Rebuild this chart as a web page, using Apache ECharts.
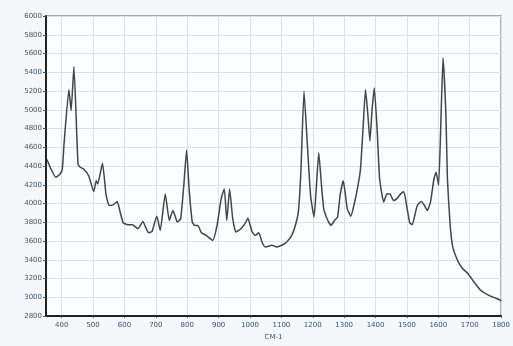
<!DOCTYPE html>
<html><head><meta charset="utf-8">
<script src="https://cdn.jsdelivr.net/npm/echarts@6/dist/echarts.min.js"></script>
<style>html,body{margin:0;padding:0;background:#f4f8fb;}#c{width:513px;height:346px;}</style>
</head><body><div id="c"></div>
<script>
const wavenumbers = [353,366,381,395,402,407,423,430,439,452,460,470,486,502,510,515,530,541,551,564,577,585,596,611,625,643,659,667,677,688,703,714,730,743,754,761,768,779,789,798,806,816,824,834,845,860,881,895,908,918,926,935,945,955,971,987,993,1007,1017,1028,1038,1049,1070,1085,1101,1117,1133,1143,1154,1162,1172,1183,1193,1204,1211,1219,1227,1235,1248,1258,1269,1279,1287,1297,1303,1310,1321,1331,1344,1352,1360,1368,1375,1382,1389,1396,1405,1413,1426,1436,1446,1457,1467,1480,1490,1499,1509,1517,1525,1533,1546,1556,1565,1575,1586,1593,1601,1609,1615,1624,1629,1637,1645,1661,1677,1694,1713,1734,1755,1776,1797,1800];
const intensity = [4470,4368,4280,4315,4370,4615,5216,4990,5460,4420,4385,4368,4297,4127,4244,4209,4431,4103,3979,3986,4021,3926,3795,3774,3774,3732,3809,3750,3689,3703,3866,3714,4103,3820,3926,3873,3803,3838,4191,4572,4156,3803,3767,3767,3689,3661,3608,3767,4050,4156,3820,4156,3838,3696,3732,3803,3845,3696,3661,3689,3590,3537,3555,3537,3555,3590,3661,3750,3909,4333,5198,4615,4085,3856,4156,4545,4227,3944,3820,3767,3820,3856,4085,4244,4121,3944,3866,3979,4191,4368,4792,5216,4969,4668,5004,5233,4792,4262,4015,4103,4103,4032,4050,4103,4127,3979,3795,3774,3873,3979,4021,3979,3926,4015,4262,4333,4198,4969,5555,4969,4262,3803,3555,3396,3308,3255,3167,3078,3032,3000,2972,2960];
const xTicks = [400,500,600,700,800,900,1000,1100,1200,1300,1400,1500,1600,1700,1800];
const yTicks = [2800,3000,3200,3400,3600,3800,4000,4200,4400,4600,4800,5000,5200,5400,5600,5800,6000];
const xName = 'CM-1';

const chart = echarts.init(document.getElementById('c'), null, {renderer:'canvas'});
const textStyle = {color:'#3a5470', fontSize:7, fontFamily:'DejaVu Sans'};
const plain = v => String(v);
chart.setOption({
  backgroundColor:'#f4f8fb',
  animation:false,
  grid:{left:46, right:5, top:16, bottom:27, show:true, backgroundColor:'#fbfdff', borderColor:'#8a9096', borderWidth:1.5},
  xAxis:{
    type:'value', min:350, max:1800,
    name:xName, nameLocation:'middle', nameGap:17,
    nameTextStyle:textStyle,
    axisLine:{show:true, lineStyle:{color:'#222', width:2}},
    axisTick:{show:true, length:2, customValues:xTicks, lineStyle:{color:'#555'}},
    axisLabel:Object.assign({customValues:xTicks, margin:6, formatter:plain}, textStyle),
    splitLine:{show:true, lineStyle:{color:'#d9e1ea', width:1}}
  },
  yAxis:{
    type:'value', min:2800, max:6000, interval:200,
    axisLine:{show:true, lineStyle:{color:'#222', width:2}},
    axisTick:{show:true, length:3, lineStyle:{color:'#555'}},
    axisLabel:Object.assign({margin:4, formatter:plain}, textStyle),
    splitLine:{show:true, lineStyle:{color:'#d9e1ea', width:1}}
  },
  series:[{
    type:'line', showSymbol:false, symbol:'none',
    data: wavenumbers.map((w,i)=>[w,intensity[i]]),
    lineStyle:{color:'#454545', width:1.5},
    smooth:0.15
  }]
});
</script></body></html>
